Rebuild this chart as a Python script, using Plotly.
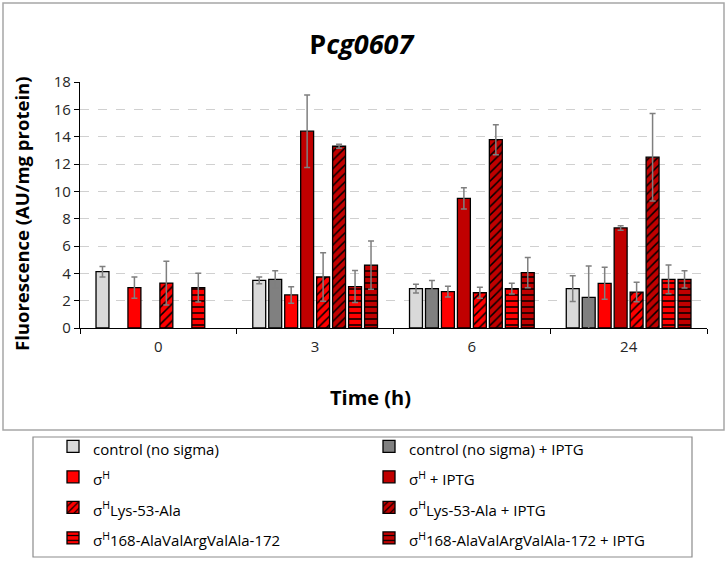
import plotly.graph_objects as go

times = ["0", "3", "6", "24"]

series_names = [
    "control (no sigma)",
    "control (no sigma) + IPTG",
    "σ<sup>H</sup>",
    "σ<sup>H</sup> + IPTG",
    "σ<sup>H</sup>Lys-53-Ala",
    "σ<sup>H</sup>Lys-53-Ala + IPTG",
    "σ<sup>H</sup>168-AlaValArgValAla-172",
    "σ<sup>H</sup>168-AlaValArgValAla-172 + IPTG",
]

control = [4.12, 3.49, 2.88, 2.88]
control_err = [0.38, 0.25, 0.32, 0.95]
control_iptg = [None, 3.56, 2.88, 2.24]
control_iptg_err = [None, 0.63, 0.6, 2.3]
sigH = [2.95, 2.42, 2.66, 3.27]
sigH_err = [0.78, 0.6, 0.4, 1.17]
sigH_iptg = [None, 14.4, 9.49, 7.32]
sigH_iptg_err = [None, 2.65, 0.78, 0.16]
lys = [3.29, 3.73, 2.58, 2.63]
lys_err = [1.6, 1.78, 0.4, 0.71]
lys_iptg = [None, 13.3, 13.78, 12.5]
lys_iptg_err = [None, 0.15, 1.1, 3.2]
mut168 = [2.95, 3.03, 2.88, 3.56]
mut168_err = [1.05, 1.17, 0.4, 1.05]
mut168_iptg = [None, 4.6, 4.05, 3.56]
mut168_iptg_err = [None, 1.76, 1.1, 0.63]

values = [control, control_iptg, sigH, sigH_iptg, lys, lys_iptg, mut168, mut168_iptg]
errors = [control_err, control_iptg_err, sigH_err, sigH_iptg_err, lys_err, lys_iptg_err, mut168_err, mut168_iptg_err]
colors = ["#d9d9d9", "#808080", "#ff0000", "#c00000", "#ff0000", "#c00000", "#ff0000", "#c00000"]
patterns = ["", "", "", "", "/", "/", "-", "-"]

fig = go.Figure()
for name, v, e, c, p in zip(series_names, values, errors, colors, patterns):
    marker = dict(color=c, line=dict(color="black", width=1.3))
    if p:
        marker["pattern"] = dict(shape=p, fgcolor="black", bgcolor=c, fillmode="replace", size=6, solidity=0.25)
    fig.add_trace(go.Bar(
        name='<span style="font-size:15px">' + name + "</span>",
        x=times, y=v, marker=marker,
        error_y=dict(type="data", array=e, visible=True, color="#7f7f7f", thickness=1.5, width=3),
    ))

# plot area geometry
L, R, T, B = 80, 707, 82, 328
W, H = R - L, B - T
def px(x):
    return (x - L) / W
def py(y):
    return (B - y) / H

fig.add_shape(type="rect", xref="paper", yref="paper",
              x0=px(3), x1=px(724), y0=py(430), y1=py(3),
              line=dict(color="#a6a6a6", width=1.5), layer="below")
fig.add_shape(type="rect", xref="paper", yref="paper",
              x0=px(33), x1=px(692), y0=py(557), y1=py(437),
              line=dict(color="#8c8c8c", width=1.2), layer="below")

fig.add_annotation(text="<b>Time (h)</b>", xref="paper", yref="paper",
                   x=px(370), y=py(397), xanchor="center", yanchor="middle",
                   showarrow=False, font=dict(size=20, color="black"))
fig.add_annotation(text="<b>Fluorescence (AU/mg protein)</b>", xref="paper", yref="paper",
                   x=px(21), y=py(214), xanchor="center", yanchor="middle", textangle=-90,
                   showarrow=False, font=dict(size=18.5, color="black"))

fig.update_layout(
    width=727, height=561,
    margin=dict(l=L, r=727 - R, t=T, b=561 - B, autoexpand=False),
    paper_bgcolor="white", plot_bgcolor="white",
    font=dict(family="Open Sans", color="#262626", size=15),
    barmode="group", bargap=0.185, bargroupgap=0.19,
    title=dict(text="<b>P<i>cg0607</i></b>", x=0.497, xanchor="center",
               y=1 - 45 / 561, yanchor="middle",
               font=dict(size=27, color="black")),
    legend=dict(orientation="h", entrywidth=271, entrywidthmode="pixels",
                x=px(53), xanchor="left", y=py(426), yanchor="top",
                font=dict(size=21.2, color="black"), bgcolor="rgba(0,0,0,0)",
                traceorder="normal"),
    showlegend=True,
)
fig.update_xaxes(type="category", tickson="boundaries", ticks="outside", ticklen=5,
                 tickcolor="black", showline=True, linecolor="black", linewidth=1.3,
                 showgrid=False, tickfont=dict(size=15), ticklabelstandoff=5)
fig.update_yaxes(range=[0, 18], dtick=2, ticks="outside", ticklen=5, tickcolor="black",
                 showline=True, linecolor="black", linewidth=1.3,
                 showgrid=True, gridcolor="#d0d0d0", griddash="dash", gridwidth=1,
                 zeroline=False, tickfont=dict(size=15))

fig.write_html("out.html", config={"displayModeBar": False},
               post_script="document.body.style.margin='0';")
